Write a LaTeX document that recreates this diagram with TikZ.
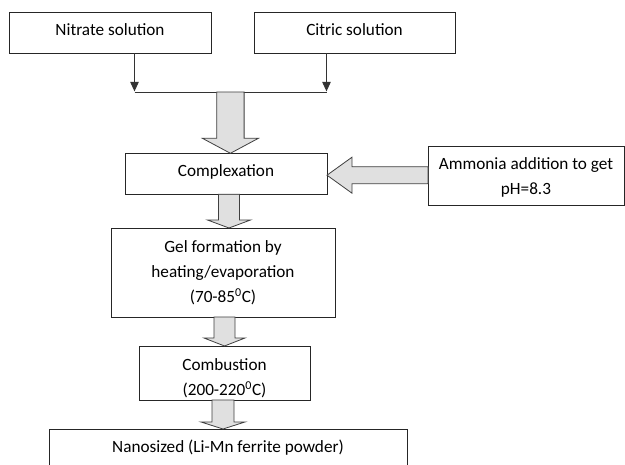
\documentclass[tikz,border=0pt]{standalone}
\usepackage{fontspec}
\setmainfont{Carlito}
\usetikzlibrary{calc,arrows.meta}
\definecolor{arrfill}{HTML}{E0E0E0}
\definecolor{arrline}{HTML}{404040}
\newcommand\vblockarrow[5]{%
  \draw[blockarr] ($(#1)+(-#3,0)$) -- ($(#2)+(-#3,-#5)$) -- ($(#2)+(-#4,-#5)$) -- (#2)
    -- ($(#2)+(#4,-#5)$) -- ($(#2)+(#3,-#5)$) -- ($(#1)+(#3,0)$) -- cycle;}
\newcommand\hblockarrow[5]{%
  \draw[blockarr] ($(#1)+(0,-#3)$) -- ($(#2)+(#5,-#3)$) -- ($(#2)+(#5,-#4)$) -- (#2)
    -- ($(#2)+(#5,#4)$) -- ($(#2)+(#5,#3)$) -- ($(#1)+(0,#3)$) -- cycle;}
\begin{document}
\begin{tikzpicture}[x=1pt,y=-1pt,
  box/.style={draw=black!85,line width=0.8pt,inner sep=0pt,outer sep=0pt},
  txt/.style={font=\fontsize{17.2}{25}\selectfont,align=center,inner sep=0pt},
  thinarr/.style={draw=black!80,line width=0.9pt,-{Triangle[width=8.5pt,length=9.5pt]}},
  joinline/.style={draw=black!80,line width=0.9pt},
  blockarr/.style={draw=arrline,fill=arrfill,line width=0.8pt,line join=miter}]
\useasboundingbox (0,0) rectangle (625,465);
\clip (0,0) rectangle (625,465);
\fill[white] (0,0) rectangle (625,465);

\node[box,minimum width=202,minimum height=41,
  label={[txt,yshift=3pt]center:Nitrate solution}] (nit) at (110,33) {};
\node[box,minimum width=201,minimum height=41,
  label={[txt,yshift=3pt]center:Citric solution}] (cit) at (354.5,33) {};
\node[box,minimum width=202,minimum height=41,
  label={[txt,yshift=2pt]center:Complexation}] (cmp) at (226,173.8) {};
\node[box,minimum width=196,minimum height=59,
  label={[txt,yshift=-1.5pt]center:Ammonia addition to get\\pH=8.3}] (amm) at (526,175.5) {};
\node[box,minimum width=224,minimum height=89,
  label={[txt,yshift=0pt]center:Gel formation by\\heating/evaporation\\(70-85\textsuperscript{0}C)}] (gel) at (223,272.5) {};
\node[box,minimum width=171,minimum height=54,
  label={[txt,yshift=-5.5pt]center:Combustion\\(200-220\textsuperscript{0}C)}] (comb) at (224.5,373) {};
\node[box,minimum width=358,minimum height=51,
  label={[txt,yshift=6.5pt]center:Nanosized (Li-Mn ferrite powder)}] (nano) at (228,454.5) {};

% join of the two solutions
\coordinate (j1) at (134.5,92);
\coordinate (j2) at (326.5,92);
\coordinate (jm) at (230.4,92);
\draw[thinarr] (nit.south -| j1) -- ([yshift=0.6pt]j1);
\draw[thinarr] (cit.south -| j2) -- ([yshift=0.6pt]j2);
\draw[joinline] (j1) -- (j2);

% block arrows
\coordinate (a2) at (229,0);
\coordinate (a3) at (224.5,0);
\coordinate (a4) at (223,0);
\coordinate (ha) at (0,175.2);
\vblockarrow{jm}{cmp.north -| jm}{13.7}{28}{15}
\vblockarrow{cmp.south -| a2}{gel.north -| a2}{10.5}{21.5}{8}
\vblockarrow{gel.south -| a3}{comb.north -| a3}{10.5}{20.5}{8}
\vblockarrow{comb.south -| a4}{nano.north -| a4}{11}{22}{7}
\hblockarrow{amm.west |- ha}{cmp.east |- ha}{8.5}{18}{25}
\end{tikzpicture}
\end{document}
